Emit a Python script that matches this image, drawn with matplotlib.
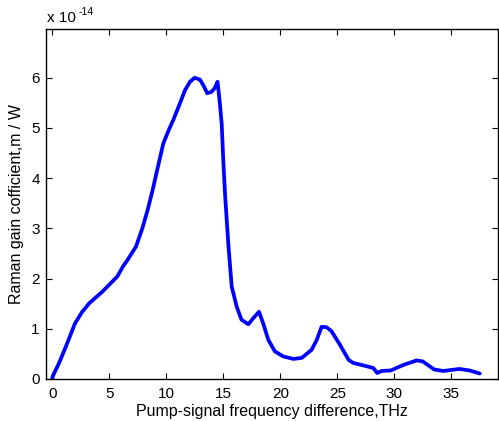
import numpy as np
import matplotlib
matplotlib.use('Agg')
import matplotlib.pyplot as plt

plt.rcParams['font.family'] = ['Liberation Sans', 'DejaVu Sans']

# Raman gain spectrum (THz, units of 1e-14 m/W)
freq_thz = [0.0, 0.03, 0.6, 1.2, 2.0, 2.6, 3.25, 4.4, 5.7, 6.2, 6.6, 7.35, 7.9, 8.37,
            8.8, 9.2, 9.74, 10.2, 10.6, 11.2, 11.64, 12.08, 12.5, 12.96, 13.25, 13.6,
            13.98, 14.27, 14.5, 14.7, 14.86, 15.0, 15.15, 15.44, 15.74, 16.18,
            16.6, 17.2, 17.63, 18.13, 18.5, 18.95, 19.53, 20.26, 21.14, 21.88,
            22.75, 23.2, 23.63, 24.07, 24.5, 25.24, 26.0, 26.4, 27.3, 28.16,
            28.5, 28.9, 29.7, 30.8, 31.96, 32.5, 33.5, 34.3, 35.7, 36.6, 37.5]
gain_e14 = [0.0, 0.05, 0.32, 0.65, 1.11, 1.33, 1.51, 1.74, 2.04, 2.24, 2.37, 2.64, 3.0, 3.37,
            3.76, 4.16, 4.69, 4.95, 5.15, 5.49, 5.75, 5.92, 6.0, 5.96, 5.85, 5.69,
            5.72, 5.80, 5.92, 5.49, 5.09, 4.36, 3.70, 2.70, 1.84, 1.44,
            1.18, 1.09, 1.21, 1.34, 1.11, 0.78, 0.55, 0.45, 0.40, 0.42,
            0.58, 0.78, 1.04, 1.03, 0.95, 0.68, 0.38, 0.32, 0.27, 0.22,
            0.12, 0.16, 0.17, 0.28, 0.37, 0.35, 0.19, 0.16, 0.20, 0.17, 0.11]

x_ticks = [0, 5, 10, 15, 20, 25, 30, 35]
y_ticks = [0, 1, 2, 3, 4, 5, 6]

fig = plt.figure(figsize=(4.99, 4.21), dpi=100)
ax = fig.add_axes([46 / 499, 42 / 421, 452 / 499, 350 / 421])

ax.plot(freq_thz, gain_e14, color='#0000ff', linewidth=2.7,
        solid_joinstyle='round', solid_capstyle='round')

ax.set_xlim(-0.55, 39.1)
ax.set_ylim(0, 6.97)
ax.set_xticks(x_ticks)
ax.set_yticks(y_ticks)
ax.tick_params(direction='in', length=4, width=0.8, top=True, right=True,
               labelsize=11, colors='black')
ax.tick_params(axis='x', pad=6)
ax.tick_params(axis='y', pad=4.5)
for sp in ax.spines.values():
    sp.set_linewidth(1.0)

ax.set_xlabel('Pump-signal frequency difference,THz', fontsize=11.5, labelpad=2)
ax.set_ylabel('Raman gain cofficient,m / W', fontsize=11.5, labelpad=5)

# MATLAB-style exponent label
fig.text(47 / 499, 1 - 18 / 421, 'x 10', fontsize=11, va='center', ha='left')
fig.text(79 / 499, 1 - 12 / 421, '-14', fontsize=7.5, va='center', ha='left')

fig.savefig('out.png', dpi=100)
